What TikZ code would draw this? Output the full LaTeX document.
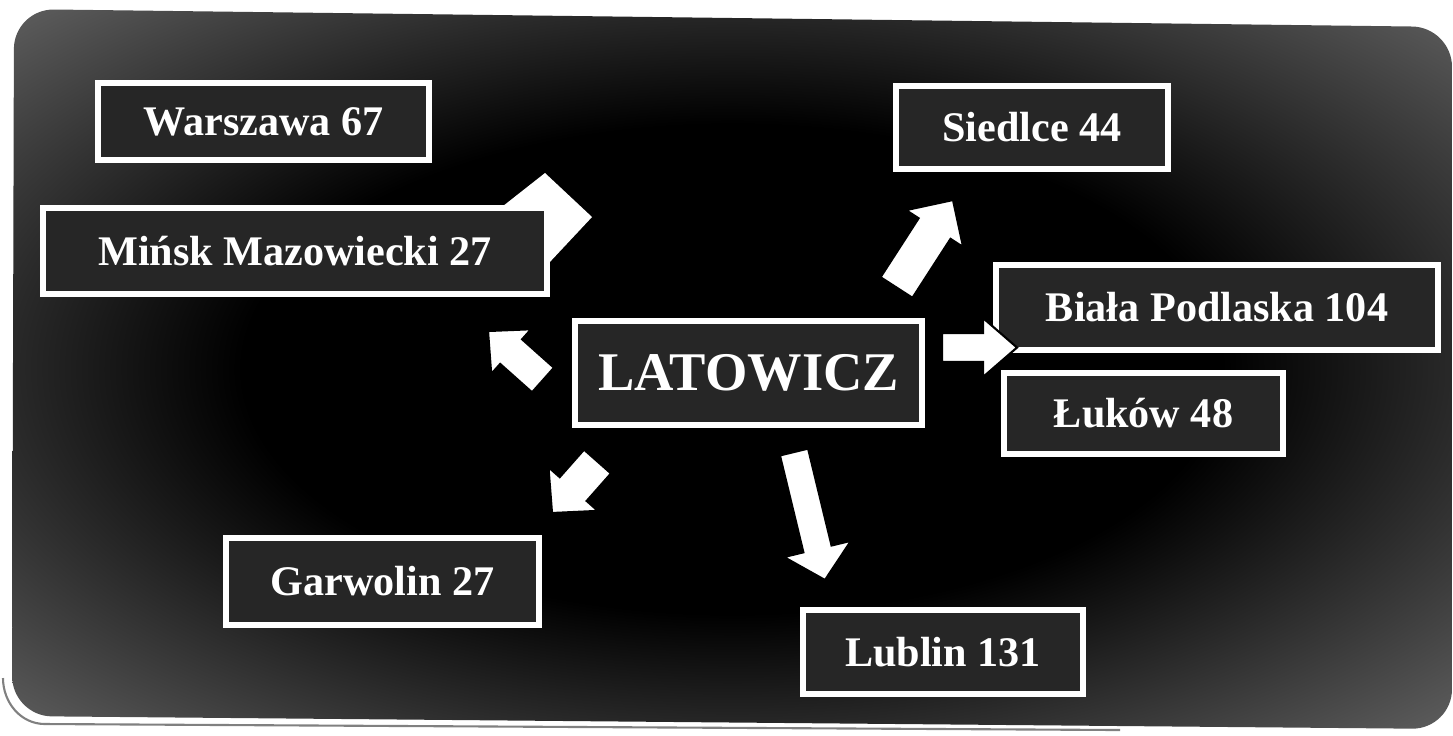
\documentclass[tikz,border=0pt]{standalone}
\usepackage{fontspec}
\setmainfont{Liberation Serif}
\usetikzlibrary{calc,positioning}

\pgfdeclareradialshading{boardshade}{\pgfpoint{0bp}{0bp}}{color(0bp)=(black); color(17bp)=(black); color(38bp)=(black!58); color(50bp)=(black!52)}

\tikzset{
	city/.style={draw=white, line width=0.06cm, fill=black!85, text=white, font=\fontsize{12}{14}\selectfont\bfseries, inner sep=0pt, minimum height=0.83cm},
	hub/.style={city, font=\fontsize{15.5}{18}\selectfont\bfseries, minimum height=1.04cm},
	arrowfill/.style={fill=white, draw=black, line width=0.6pt, line join=miter}
}

% #1 tail, #2 tip, #3 half shaft, #4 half head, #5 head length
\newcommand{\blockarrow}[5]{%
	\coordinate (ha) at ($(#2)!#5!(#1)$);
	\filldraw[arrowfill] ($(#1)!#3!90:(#2)$) -- ($(ha)!#3!90:(#2)$) -- ($(ha)!#4!90:(#2)$) -- (#2)
	-- ($(ha)!#4!-90:(#2)$) -- ($(ha)!#3!-90:(#2)$) -- ($(#1)!#3!-90:(#2)$) -- cycle;
}

\begin{document}
\begin{tikzpicture}
	\useasboundingbox (0,0) rectangle (14.53,-7.35);
	
	% Board
	\shade[shading=boardshade, rounded corners=0.4cm] (0.14,-0.09) -- (14.52,-0.27) -- (14.52,-7.29) -- (0.12,-7.16) -- cycle;
	\draw[black!50, line width=0.6pt] (0.03,-6.78) to[out=-90, in=180] (0.45,-7.24) -- (11.2,-7.30);
	
	% arrow hidden behind Minsk
	\fill[white] (4.70,-2.32) -- (5.45,-1.73) -- (5.92,-2.17) -- (5.48,-2.64) -- (5.20,-2.92) -- cycle;
	
	% CENTRE
	\node[hub, minimum width=3.47cm] at (7.485,-3.73) (lat) {LATOWICZ};
	
	% LEFT SIDE
	\node[city, minimum width=3.31cm, minimum height=0.77cm] at (2.635,-1.215) (war) {Warszawa 67};
	\node[city, minimum width=5.04cm, minimum height=0.86cm] at (2.95,-2.51) (min) {Mińsk Mazowiecki 27};
	\node[city, minimum width=3.13cm, minimum height=0.87cm] at (3.825,-5.815) (gar) {Garwolin 27};
	
	% RIGHT SIDE
	\node[city, minimum width=2.72cm] at (10.32,-1.275) (sie) {Siedlce 44};
	\node[city, minimum width=4.42cm, minimum height=0.85cm] at (12.17,-3.075) (bia) {Biała Podlaska 104};
	\node[city, minimum width=2.79cm, minimum height=0.81cm, below right=0.17cm and 0.08cm of bia.south west] (luk) {Łuków 48};
	\node[city, minimum width=2.80cm, minimum height=0.84cm] at (9.43,-6.52) (lub) {Lublin 131};
	
	% Arrows
	\blockarrow{5.43,-3.80}{4.88,-3.31}{0.165cm}{0.30cm}{0.31cm}
	\blockarrow{5.975,-4.615}{5.52,-5.13}{0.18cm}{0.33cm}{0.32cm}
	\blockarrow{7.94,-4.52}{8.25,-5.80}{0.145cm}{0.345cm}{0.32cm}
	\blockarrow{9.42,-3.475}{10.17,-3.475}{0.145cm}{0.295cm}{0.34cm}
	\blockarrow{8.965,-2.875}{9.53,-2.00}{0.19cm}{0.34cm}{0.34cm}
	
\end{tikzpicture}
\end{document}
